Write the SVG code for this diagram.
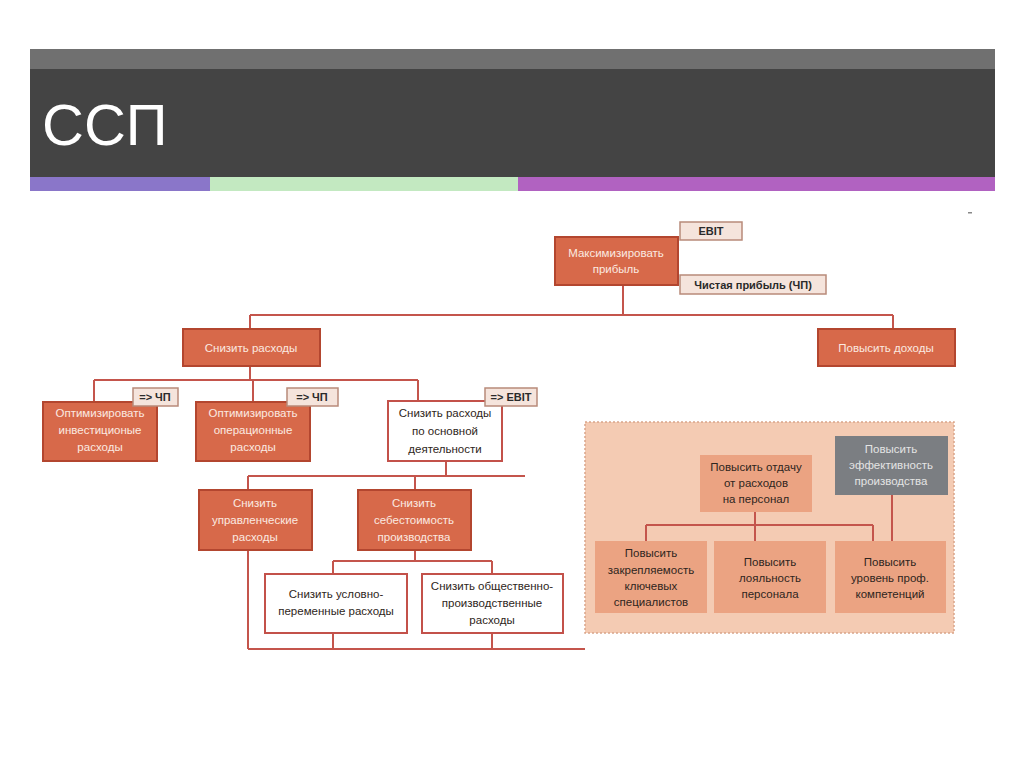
<svg xmlns="http://www.w3.org/2000/svg" width="1024" height="767" viewBox="0 0 1024 767">
<style>
.t{font-family:"Liberation Sans",Arial,sans-serif;font-size:11.5px;text-anchor:middle}
.w{fill:#fbe9e1}
.d{fill:#2e2520}
.g{fill:#e4e4e4}
.on{fill:#d7694a;stroke:#b3462f;stroke-width:2}
.wn{fill:#ffffff;stroke:#c3514a;stroke-width:2}
.pn{fill:#eba382;stroke:none}
.gn{fill:#7b7e82;stroke:none}
.lb{fill:#f5e4dc;stroke:#b88a7a;stroke-width:1.5}
.lt{font-family:"Liberation Sans",Arial,sans-serif;font-size:11px;font-weight:bold;fill:#2a2a2a;text-anchor:middle}
.c{fill:none;stroke:#c4554c;stroke-width:2}
</style>
<rect width="1024" height="767" fill="#ffffff"/>
<g id="header">
<rect x="30" y="49" width="965" height="20" fill="#707070"/>
<rect x="30" y="69" width="965" height="108" fill="#444444"/>
<rect x="30" y="177" width="180" height="14" fill="#8a76c9"/>
<rect x="210" y="177" width="308" height="14" fill="#c3e9c1"/>
<rect x="518" y="177" width="477" height="14" fill="#b162c1"/>
<text x="42" y="145" font-family="'Liberation Sans',Arial,sans-serif" font-size="58" fill="#ffffff">ССП</text>
</g>
<rect id="tick" x="968" y="212" width="4" height="1.5" fill="#888"/>
<g id="panel">
<rect x="585" y="422" width="369" height="211" fill="#f4cbb3" stroke="#d9a58a" stroke-width="1.5" stroke-dasharray="2,2"/>
</g>
<g id="connectors">
<path class="c" d="M623 285V315M250 315H893M250 315V329M893 315V329"/>
<path class="c" d="M250 366V380M94 380H418M94 380V402M253 380V402M418 380V401"/>
<path class="c" d="M446 461V476M248 476H525M248 476V490M415 476V490"/>
<path class="c" d="M415 550V561M333 561H492M333 561V574M492 561V574"/>
<path class="c" d="M248 550V649M333 633V649M492 633V649M248 649H585"/>
<path class="c" d="M755 512V541M646 525H873M646 525V541M873 525V541M892 495V541"/>
</g>
<g id="n-max">
<rect class="on" x="555" y="237" width="123" height="48"/>
<text class="t w" x="616" y="257">Максимизировать</text>
<text class="t w" x="616" y="273">прибыль</text>
</g>
<g id="l-ebit1">
<rect class="lb" x="680" y="222" width="62" height="18"/>
<text class="lt" x="711" y="235">EBIT</text>
</g>
<g id="l-chp">
<rect class="lb" x="680" y="275" width="146" height="19"/>
<text class="lt" x="753" y="289">Чистая прибыль (ЧП)</text>
</g>
<g id="n-cut">
<rect class="on" x="183" y="329" width="137" height="37"/>
<text class="t w" x="251" y="352">Снизить расходы</text>
</g>
<g id="n-inc">
<rect class="on" x="818" y="329" width="137" height="37"/>
<text class="t w" x="886" y="352">Повысить доходы</text>
</g>
<g id="n-inv">
<rect class="on" x="43" y="402" width="114" height="59"/>
<text class="t w" x="100" y="417">Оптимизировать</text>
<text class="t w" x="100" y="434">инвестиционые</text>
<text class="t w" x="100" y="451">расходы</text>
</g>
<g id="l-chp1">
<rect class="lb" x="133" y="388" width="45" height="18"/>
<text class="lt" x="155" y="401">=&gt; ЧП</text>
</g>
<g id="n-op">
<rect class="on" x="196" y="402" width="114" height="59"/>
<text class="t w" x="253" y="417">Оптимизировать</text>
<text class="t w" x="253" y="434">операционные</text>
<text class="t w" x="253" y="451">расходы</text>
</g>
<g id="l-chp2">
<rect class="lb" x="287" y="388" width="51" height="18"/>
<text class="lt" x="312" y="401">=&gt; ЧП</text>
</g>
<g id="n-main">
<rect class="wn" x="388" y="401" width="114" height="60"/>
<text class="t d" x="445" y="417">Снизить расходы</text>
<text class="t d" x="445" y="435">по основной</text>
<text class="t d" x="445" y="453">деятельности</text>
</g>
<g id="l-ebit2">
<rect class="lb" x="485" y="388" width="52" height="18"/>
<text class="lt" x="511" y="401">=&gt; EBIT</text>
</g>
<g id="n-mgmt">
<rect class="on" x="199" y="490" width="113" height="60"/>
<text class="t w" x="255" y="507">Снизить</text>
<text class="t w" x="255" y="524">управленческие</text>
<text class="t w" x="255" y="541">расходы</text>
</g>
<g id="n-cost">
<rect class="on" x="358" y="490" width="113" height="60"/>
<text class="t w" x="414" y="507">Снизить</text>
<text class="t w" x="414" y="524">себестоимость</text>
<text class="t w" x="414" y="541">производства</text>
</g>
<g id="n-var">
<rect class="wn" x="265" y="574" width="142" height="59"/>
<text class="t d" x="336" y="598">Снизить условно-</text>
<text class="t d" x="336" y="615">переменные расходы</text>
</g>
<g id="n-gen">
<rect class="wn" x="422" y="574" width="141" height="59"/>
<text class="t d" x="492" y="590">Снизить общественно-</text>
<text class="t d" x="492" y="607">производственные</text>
<text class="t d" x="492" y="624">расходы</text>
</g>
<g id="n-ret">
<rect class="pn" x="700" y="455" width="112" height="57"/>
<text class="t d" x="756" y="471">Повысить отдачу</text>
<text class="t d" x="756" y="487">от расходов</text>
<text class="t d" x="756" y="503">на персонал</text>
</g>
<g id="n-eff">
<rect class="gn" x="835" y="436" width="113" height="59"/>
<text class="t g" x="891" y="453">Повысить</text>
<text class="t g" x="891" y="469">эффективность</text>
<text class="t g" x="891" y="485">производства</text>
</g>
<g id="n-keep">
<rect class="pn" x="595" y="541" width="112" height="72"/>
<text class="t d" x="651" y="557">Повысить</text>
<text class="t d" x="651" y="574">закрепляемость</text>
<text class="t d" x="651" y="590">ключевых</text>
<text class="t d" x="651" y="606">специалистов</text>
</g>
<g id="n-loyal">
<rect class="pn" x="714" y="541" width="112" height="72"/>
<text class="t d" x="770" y="566">Повысить</text>
<text class="t d" x="770" y="582">лояльность</text>
<text class="t d" x="770" y="598">персонала</text>
</g>
<g id="n-skill">
<rect class="pn" x="835" y="541" width="111" height="72"/>
<text class="t d" x="890" y="566">Повысить</text>
<text class="t d" x="890" y="582">уровень проф.</text>
<text class="t d" x="890" y="598">компетенций</text>
</g>
</svg>
